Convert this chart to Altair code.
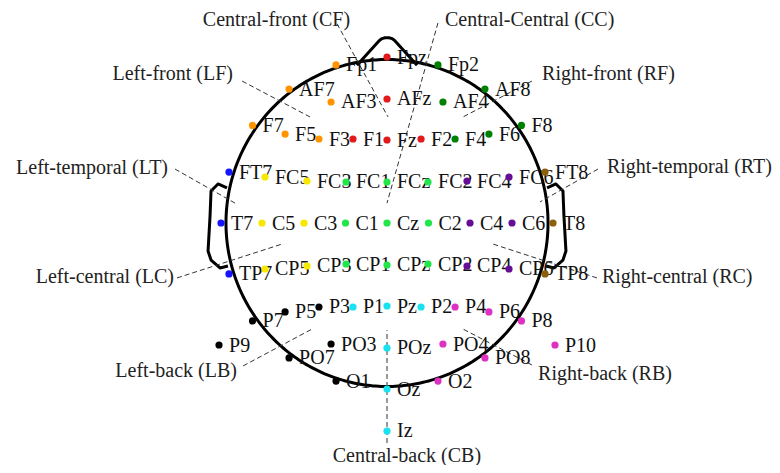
import altair as alt
import pandas as pd
import numpy as np

# ---------------- data ----------------
names = ["Fp1", "Fpz", "Fp2",
         "AF7", "AF3", "AFz", "AF4", "AF8",
         "F7", "F5", "F3", "F1", "Fz", "F2", "F4", "F6", "F8",
         "FT7", "FC5", "FC3", "FC1", "FCz", "FC2", "FC4", "FC6", "FT8",
         "T7", "C5", "C3", "C1", "Cz", "C2", "C4", "C6", "T8",
         "TP7", "CP5", "CP3", "CP1", "CPz", "CP2", "CP4", "CP6", "TP8",
         "P9", "P7", "P5", "P3", "P1", "Pz", "P2", "P4", "P6", "P8", "P10",
         "PO7", "PO3", "POz", "PO4", "PO8",
         "O1", "Oz", "O2", "Iz"]
xs = [-0.307, 0.0, 0.307,
      -0.590, -0.337, 0.0, 0.337, 0.590,
      -0.810, -0.614, -0.410, -0.205, 0.0, 0.205, 0.410, 0.614, 0.810,
      -0.952, -0.735, -0.482, -0.247, 0.0, 0.247, 0.482, 0.735, 0.952,
      -1.0, -0.753, -0.5, -0.25, 0.0, 0.25, 0.5, 0.753, 1.0,
      -0.952, -0.735, -0.482, -0.247, 0.0, 0.247, 0.482, 0.735, 0.952,
      -1.012, -0.810, -0.614, -0.410, -0.205, 0.0, 0.205, 0.410, 0.614, 0.810, 1.012,
      -0.590, -0.337, 0.0, 0.337, 0.590,
      -0.307, 0.0, 0.307, 0.0]
ys = [0.952, 1.0, 0.952,
      0.807, 0.729, 0.747, 0.729, 0.807,
      0.588, 0.536, 0.506, 0.506, 0.500, 0.506, 0.506, 0.536, 0.588,
      0.307, 0.277, 0.253, 0.247, 0.247, 0.247, 0.253, 0.277, 0.307,
      0.0, 0.0, 0.0, 0.0, 0.0, 0.0, 0.0, 0.0, 0.0,
      -0.307, -0.277, -0.259, -0.247, -0.253, -0.247, -0.259, -0.277, -0.307,
      -0.735, -0.590, -0.536, -0.506, -0.506, -0.500, -0.506, -0.506, -0.536, -0.590, -0.735,
      -0.813, -0.729, -0.753, -0.729, -0.813,
      -0.952, -1.0, -0.952, -1.253]
regions = ["LF", "CF", "RF",
           "LF", "LF", "CF", "RF", "RF",
           "LF", "LF", "LF", "CF", "CF", "CF", "RF", "RF", "RF",
           "LT", "LC", "LC", "CC", "CC", "CC", "RC", "RC", "RT",
           "LT", "LC", "LC", "CC", "CC", "CC", "RC", "RC", "RT",
           "LT", "LC", "LC", "CC", "CC", "CC", "RC", "RC", "RT",
           "LB", "LB", "LB", "LB", "CB", "CB", "CB", "RB", "RB", "RB", "RB",
           "LB", "LB", "CB", "RB", "RB",
           "LB", "CB", "RB", "CB"]

region_codes = ["CF", "CC", "LF", "RF", "LT", "RT", "LC", "RC", "LB", "RB", "CB"]
region_colors = ["#e31a1c", "#20e64a", "#ff9400", "#008000", "#1414ff", "#8c5f0b",
                 "#f7e800", "#650e95", "#000000", "#de30c2", "#18e2ef"]

region_titles = ["Central-front (CF)", "Central-Central (CC)", "Left-front (LF)",
                 "Right-front (RF)", "Left-temporal (LT)", "Right-temporal (RT)",
                 "Left-central (LC)", "Right-central (RC)", "Left-back (LB)",
                 "Right-back (RB)", "Central-back (CB)"]
title_x = [-0.666, 0.349, -0.928, 0.934, -1.319, 1.325, -1.283, 1.295, -0.904, 0.910, 0.120]
title_y = [1.187, 1.187, 0.861, 0.861, 0.295, 0.301, -0.361, -0.361, -0.928, -0.946, -1.437]
title_align = ["center", "left", "right", "left", "right", "left", "right", "left",
               "right", "left", "center"]
# dashed pointer lines (start near title -> end inside head)
line_x1 = [-0.301, 0.307, -0.873, 0.873, -1.277, 1.271, -1.265, 1.265, -0.867, 0.873, 0.0]
line_y1 = [1.200, 1.205, 0.855, 0.855, 0.325, 0.325, -0.331, -0.331, -0.861, -0.855, -1.325]
line_x2 = [0.006, 0.0, -0.464, 0.458, -0.916, 0.922, -0.633, 0.639, -0.452, 0.458, 0.0]
line_y2 = [0.639, 0.120, 0.639, 0.639, 0.120, 0.127, -0.127, -0.127, -0.639, -0.639, -0.645]

# head outline pieces
head_rx, head_ry = 0.970, 0.985
nose_x = [-0.181, -0.046, -0.030, -0.012, 0.012, 0.030, 0.046, 0.181]
nose_y = [0.950, 1.100, 1.111, 1.116, 1.116, 1.111, 1.100, 0.950]
ear_x = [-0.964, -1.018, -1.060, -1.066, -1.078, -1.060, -1.006, -0.958]
ear_y = [0.211, 0.235, 0.193, 0.042, -0.169, -0.223, -0.271, -0.259]

# ---------------- layout ----------------
W, H = 764, 457
S = 166.0            # px per unit
CX, CY = 379.0, 215.0
xdom = [-CX / S, (W - CX) / S]
ydom = [-(H - CY) / S, CY / S]
xsc = alt.Scale(domain=xdom, nice=False, zero=False)
ysc = alt.Scale(domain=ydom, nice=False, zero=False)
FONT = "Liberation Serif"

elec = pd.DataFrame({"name": names, "x": xs, "y": ys, "region": regions})

t = np.linspace(0, 2 * np.pi, 361)
head = pd.DataFrame({"x": head_rx * np.cos(t), "y": head_ry * np.sin(t), "i": np.arange(len(t))})
nose = pd.DataFrame({"x": nose_x, "y": nose_y, "i": range(len(nose_x))})
ears = pd.DataFrame({
    "x": ear_x + [-v for v in ear_x],
    "y": ear_y + ear_y,
    "side": ["L"] * len(ear_x) + ["R"] * len(ear_x),
    "i": list(range(len(ear_x))) * 2,
})
lines = pd.DataFrame({"x": line_x1, "y": line_y1, "x2": line_x2, "y2": line_y2})
titles = pd.DataFrame({"label": region_titles, "x": title_x, "y": title_y, "align": title_align})

X = alt.X("x:Q", scale=xsc, axis=None)
Y = alt.Y("y:Q", scale=ysc, axis=None)

head_layer = alt.Chart(head).mark_line(color="black", strokeWidth=3).encode(x=X, y=Y, order="i:Q")
nose_layer = alt.Chart(nose).mark_line(color="black", strokeWidth=3, strokeJoin="round").encode(
    x=X, y=Y, order="i:Q")
ear_layer = alt.Chart(ears).mark_line(color="black", strokeWidth=3, strokeJoin="round").encode(
    x=X, y=Y, detail="side:N", order="i:Q")
rule_layer = alt.Chart(lines).mark_rule(color="#333333", strokeWidth=1, strokeDash=[5, 3]).encode(
    x=X, y=Y, x2="x2:Q", y2="y2:Q")

label_layer = alt.Chart(elec).mark_text(
    align="left", baseline="alphabetic", dx=10, dy=6.5, fontSize=20, font=FONT, color="#111111"
).encode(x=X, y=Y, text="name:N")

dot_layer = alt.Chart(elec).mark_circle(size=52, opacity=1).encode(
    x=X, y=Y,
    color=alt.Color("region:N", scale=alt.Scale(domain=region_codes, range=region_colors), legend=None),
)

title_layers = []
for a in ["left", "center", "right"]:
    title_layers.append(
        alt.Chart(titles[titles["align"] == a]).mark_text(
            align=a, baseline="alphabetic", fontSize=20, font=FONT, color="#222222"
        ).encode(x=X, y=Y, text="label:N")
    )

chart = alt.layer(head_layer, ear_layer, nose_layer, rule_layer, label_layer, dot_layer,
                  *title_layers).properties(
    width=W, height=H, padding=0, autosize=alt.AutoSizeParams(type="none")
).configure_view(stroke=None)

chart.save("out.html", embed_options={"renderer": "svg", "actions": False})
